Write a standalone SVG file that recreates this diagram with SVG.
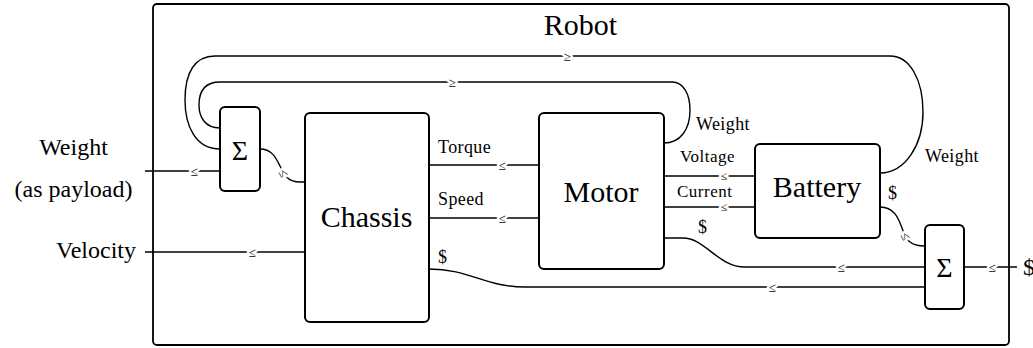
<svg xmlns="http://www.w3.org/2000/svg" width="1033" height="348" viewBox="0 0 1033 348" font-family="'Liberation Serif', 'DejaVu Serif', serif">
<style>
text{font-family:"Liberation Serif","DejaVu Serif",serif;fill:#000}
.box{fill:#fff;stroke:#000;stroke-width:2}
.border{fill:none;stroke:#000;stroke-width:1.8}
.wire{fill:none;stroke:#000;stroke-width:1.4}
.big{font-size:30px;text-anchor:middle}
.sig{font-size:28px;text-anchor:middle}
.ext{font-size:24px}
.lab{font-size:18px;letter-spacing:0.4px}
.mid{font-size:17px;letter-spacing:0.5px}
.rel{font-size:13px;text-anchor:middle;dominant-baseline:central;paint-order:stroke;stroke:#fff;stroke-width:5px;stroke-linejoin:round}
.rs{font-size:12px}
</style>
<rect class="border" x="153" y="4" width="856" height="341" rx="4"/>
<text class="big" x="580.5" y="35">Robot</text>
<g id="connectors">
<path class="wire" d="M145,171 L220,171"/>
<path class="wire" d="M145,252 L305,252"/>
<path class="wire" d="M260,149 C272,149 276,158 280,166 C285,176 288,182 300,182 L305,182"/>
<path class="wire" d="M220,149 C195,149 185,125 185,100 C185,72 195,56 215,56 L890,56 C910,56 923,80 923,112 C923,145 905,173 880,173"/>
<path class="wire" d="M220,128 C205,128 199,117 199,105 C199,90 206,82 220,82 L672,82 C684,82 690,95 690,110 C690,130 680,143 664,143"/>
<path class="wire" d="M429,165 L539,165"/>
<path class="wire" d="M429,218 L539,218"/>
<path class="wire" d="M429,269 C470,269 485,287 525,287 L925,287"/>
<path class="wire" d="M664,176 L755,176"/>
<path class="wire" d="M664,207 L755,207"/>
<path class="wire" d="M664,238 L683,238 C705,238 718,267 745,267 L925,267"/>
<path class="wire" d="M880,207 C895,207 899,220 902,228 C906,240 910,246 925,246"/>
<path class="wire" d="M964,267 L1017,267"/>
<text class="rel" x="194" y="171">≤</text>
<text class="rel" x="284" y="173" transform="rotate(62 284 173)">≤</text>
<text class="rel" x="252" y="252">≤</text>
<text class="rel" x="567" y="56">≥</text>
<text class="rel" x="452" y="82">≥</text>
<text class="rel" x="502" y="165">≤</text>
<text class="rel" x="502" y="218">≤</text>
<text class="rel rs" x="724" y="176">≤</text>
<text class="rel rs" x="724" y="207">≤</text>
<text class="rel" x="841" y="267">≤</text>
<text class="rel" x="772" y="287">≤</text>
<text class="rel" x="906" y="236" transform="rotate(62 906 236)">≤</text>
<text class="rel" x="992" y="267">≤</text>
<text class="lab" x="438" y="153">Torque</text>
<text class="lab" x="438" y="205">Speed</text>
<text class="lab" x="438" y="263">$</text>
<text class="lab" x="696" y="130">Weight</text>
<text class="mid" x="680" y="162">Voltage</text>
<text class="mid" x="677" y="197">Current</text>
<text class="lab" x="698" y="233">$</text>
<text class="lab" x="925" y="162">Weight</text>
<text class="lab" x="888" y="199">$</text>
</g>
<g id="sum-left">
<rect class="box" x="220" y="107" width="40" height="84" rx="5"/>
<text class="sig" x="240" y="160">Σ</text>
</g>
<g id="chassis">
<rect class="box" x="305" y="113" width="124" height="209" rx="5"/>
<text class="big" x="366.5" y="227">Chassis</text>
</g>
<g id="motor">
<rect class="box" x="539" y="113" width="125" height="156" rx="5"/>
<text class="big" x="601" y="202">Motor</text>
</g>
<g id="battery">
<rect class="box" x="755" y="144" width="125" height="94" rx="5"/>
<text class="big" x="817" y="197">Battery</text>
</g>
<g id="sum-right">
<rect class="box" x="925" y="225" width="39" height="84" rx="5"/>
<text class="sig" x="944.5" y="277">Σ</text>
</g>
<g id="external">
<text class="ext" x="73.5" y="155" text-anchor="middle">Weight</text>
<text class="ext" x="73.5" y="197" text-anchor="middle">(as payload)</text>
<text class="ext" x="136" y="258" text-anchor="end">Velocity</text>
<text class="ext" x="1023" y="275">$</text>
</g>
</svg>
